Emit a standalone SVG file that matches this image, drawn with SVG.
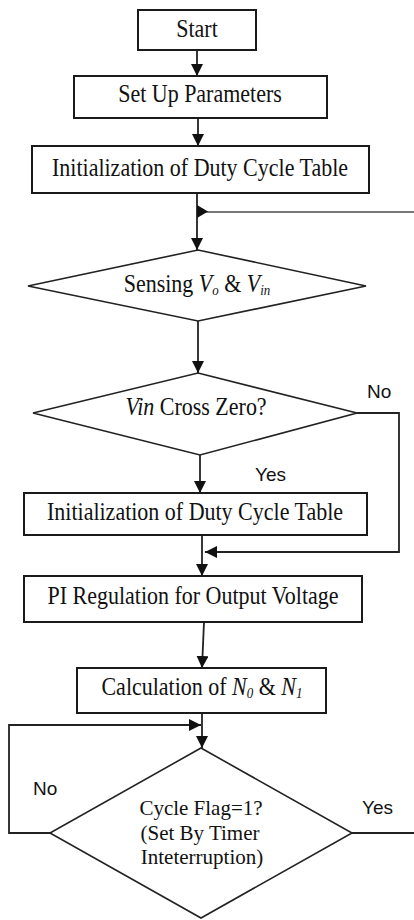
<svg xmlns="http://www.w3.org/2000/svg" width="414" height="920" viewBox="0 0 414 920">
<style>
.bg{fill:#fff}
.box{fill:#fff;stroke:#1a1a1a;stroke-width:2}
.dia{fill:#fff;stroke:#222;stroke-width:1.6}
.t{font-family:"Liberation Serif","Times New Roman",serif;font-size:22px;fill:#111;text-anchor:middle}
.t2{font-family:"Liberation Serif","Times New Roman",serif;font-size:21px;fill:#111;text-anchor:middle}
.lbl{font-family:"Liberation Sans",Arial,sans-serif;font-size:19px;fill:#111}
.i{font-style:italic}
.sub{font-style:italic;font-size:13px}
.c{fill:none;stroke:#222;stroke-width:1.8}
.cl{fill:none;stroke:#777;stroke-width:1.8}
.ah{fill:#111}
</style>
<defs>
<marker id="arr" markerUnits="userSpaceOnUse" markerWidth="12" markerHeight="12" viewBox="0 0 12 12" refX="12" refY="6" orient="auto">
<path d="M0,0 L12,6 L0,12 Z" class="ah"/>
</marker>
</defs>
<rect class="bg" x="0" y="0" width="414" height="920"/>
<g id="connectors">
<path class="c" d="M197,50 V76" marker-end="url(#arr)"/>
<path class="c" d="M198,118 V146" marker-end="url(#arr)"/>
<path class="c" d="M197,193 V250" marker-end="url(#arr)"/>
<path class="cl" d="M414,212 H200"/>
<polygon class="ah" points="197,205 208,211.5 197,218"/>
<path class="c" d="M198,321 V373" marker-end="url(#arr)"/>
<path class="c" d="M200,455 V493" marker-end="url(#arr)"/>
<path class="c" d="M357,413 H399 V552 H205" marker-end="url(#arr)"/>
<path class="c" d="M202,535 V576" marker-end="url(#arr)"/>
<path class="c" d="M204,622 L202,668" marker-end="url(#arr)"/>
<path class="c" d="M202,713 V748" marker-end="url(#arr)"/>
<path class="c" d="M50,833 H9 V725 H201" marker-end="url(#arr)"/>
<path class="c" d="M352,833 H414"/>
<text class="lbl" x="367" y="398">No</text>
<text class="lbl" x="255" y="481">Yes</text>
<text class="lbl" x="33" y="795">No</text>
<text class="lbl" x="362" y="814">Yes</text>
</g>
<g id="start">
<rect class="box" x="138" y="10" width="118" height="40"/>
<text class="t" transform="translate(197,37) scale(1,1.1)">Start</text>
</g>
<g id="setup">
<rect class="box" x="74" y="76" width="253" height="42"/>
<text class="t" transform="translate(200,102) scale(1,1.1)">Set Up Parameters</text>
</g>
<g id="init1">
<rect class="box" x="32" y="146" width="337" height="47"/>
<text class="t" transform="translate(200,176) scale(1,1.1)">Initialization of Duty Cycle Table</text>
</g>
<g id="sensing">
<polygon class="dia" points="198,250 366,286 198,321 28,286"/>
<text class="t" transform="translate(197,292) scale(1,1.1)">Sensing <tspan class="i">V</tspan><tspan class="sub" dy="3">o</tspan><tspan dy="-3"> &amp; </tspan><tspan class="i">V</tspan><tspan class="sub" dy="3">in</tspan></text>
</g>
<g id="crosszero">
<polygon class="dia" points="198,373 357,413 200,455 33,413"/>
<text class="t" transform="translate(196,415) scale(1,1.1)"><tspan class="i">Vin</tspan> Cross Zero?</text>
</g>
<g id="init2">
<rect class="box" x="24" y="493" width="343" height="42"/>
<text class="t" transform="translate(195,520) scale(1,1.1)">Initialization of Duty Cycle Table</text>
</g>
<g id="pi">
<rect class="box" x="24" y="576" width="338" height="46"/>
<text class="t" transform="translate(193,604) scale(1,1.1)">PI Regulation for Output Voltage</text>
</g>
<g id="calc">
<rect class="box" x="77" y="668" width="249" height="45"/>
<text class="t" transform="translate(202,695) scale(1,1.1)">Calculation of <tspan class="i">N</tspan><tspan class="sub" dy="3">0</tspan><tspan dy="-3"> &amp; </tspan><tspan class="i">N</tspan><tspan class="sub" dy="3">1</tspan></text>
</g>
<g id="cycleflag">
<polygon class="dia" points="201,748 352,833 201,918 50,833"/>
<text class="t2" x="201" y="814.5">Cycle Flag=1?</text>
<text class="t2" x="200" y="839.5">(Set By Timer</text>
<text class="t2" x="202" y="864">Inteterruption)</text>
</g>
</svg>
